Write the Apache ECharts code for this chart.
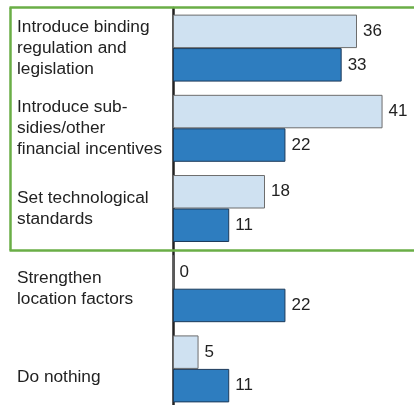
<!DOCTYPE html>
<html>
<head>
<meta charset="utf-8">
<script src="https://cdn.jsdelivr.net/npm/echarts@6/dist/echarts.min.js"></script>
<style>
  html, body { margin: 0; padding: 0; background: #fff; overflow: hidden; }
  #chart { width: 416px; height: 405px; }
</style>
</head>
<body>
<div id="chart"></div>
<script>
// categories (top to bottom)
const categories = [
  'Introduce binding\nregulation and\nlegislation',
  'Introduce sub-\nsidies/other\nfinancial incentives',
  'Set technological\nstandards',
  'Strengthen\nlocation factors',
  'Do nothing'
];
// light bars (upper bar of each pair)
const valuesLight = [36, 41, 18, 0, 5];
// dark bars (lower bar of each pair)
const valuesDark = [33, 22, 11, 22, 11];

const font = 'Liberation Sans, Arial, sans-serif';

const chart = echarts.init(document.getElementById('chart'));

// green frame round the first three categories (open on the right)
const frameStyle = { stroke: '#6aae46', lineWidth: 2.5 };

const option = {
  animation: false,
  grid: {
    left: 173,
    right: 13,
    top: 8,
    bottom: -4,
    outerBoundsMode: 'none',
    containLabel: false
  },
  xAxis: {
    type: 'value',
    min: 0,
    max: 45,
    show: false
  },
  yAxis: {
    type: 'category',
    inverse: true,
    data: categories,
    axisLine: { show: true, lineStyle: { color: '#222', width: 2.5 } },
    axisTick: { show: false },
    axisLabel: {
      align: 'left',
      margin: 156,
      fontFamily: font,
      fontSize: 17.3,
      lineHeight: 21,
      color: '#222',
      formatter: function (value) {
        // last label sits a bit lower in the original
        if (value === 'Do nothing') return '{low|' + value + '}';
        return value;
      },
      rich: {
        low: { fontFamily: font, fontSize: 17.3, lineHeight: 21, color: '#222', padding: [17, 0, 0, 0] }
      }
    }
  },
  series: [
    {
      name: 'light',
      type: 'bar',
      data: valuesLight,
      barGap: '0%',
      barCategoryGap: '16.5%',
      itemStyle: { color: '#cfe1f1', borderColor: '#6d6d6d', borderWidth: 1 },
      label: { show: true, position: 'right', distance: 6, fontFamily: font, fontSize: 17, color: '#222' }
    },
    {
      name: 'dark',
      type: 'bar',
      data: valuesDark,
      barGap: '0%',
      barCategoryGap: '16.5%',
      itemStyle: { color: '#2e7dbf', borderColor: '#1c3a5a', borderWidth: 1 },
      label: { show: true, position: 'right', distance: 6, fontFamily: font, fontSize: 17, color: '#222' }
    }
  ],
  graphic: [
    { type: 'line', shape: { x1: 9.5, y1: 7.5, x2: 414, y2: 7.5 }, style: frameStyle, z: 100 },
    { type: 'line', shape: { x1: 10.5, y1: 7.5, x2: 10.5, y2: 250.5 }, style: frameStyle, z: 100 },
    { type: 'line', shape: { x1: 9.5, y1: 250.5, x2: 414, y2: 250.5 }, style: frameStyle, z: 100 }
  ]
};

chart.setOption(option);
</script>
</body>
</html>
